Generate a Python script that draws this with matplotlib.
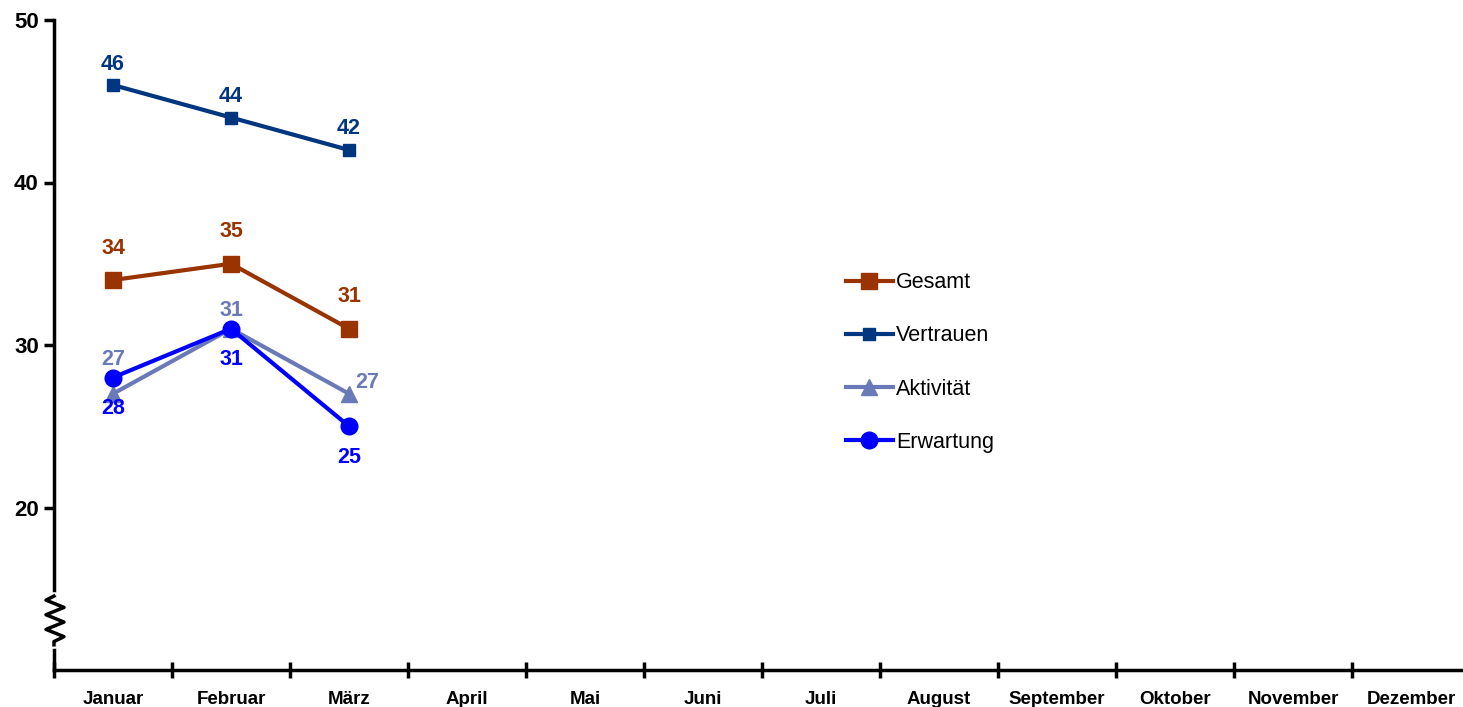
import matplotlib.pyplot as plt
import matplotlib.transforms as mtransforms
import numpy as np

plt.rcParams['font.family'] = ['Liberation Sans', 'DejaVu Sans']

months = ['Januar', 'Februar', 'März', 'April', 'Mai', 'Juni', 'Juli',
          'August', 'September', 'Oktober', 'November', 'Dezember']
gesamt = [34, 35, 31]
vertrauen = [46, 44, 42]
aktivitaet = [27, 31, 27]
erwartung = [28, 31, 25]

c_ges = '#993300'
c_ver = '#003580'
c_akt = '#6a7ab8'
c_erw = '#0000ff'

fig = plt.figure(figsize=(14.63, 7.07), dpi=100)
ax = fig.add_axes([54 / 1463, 37 / 707, 1416 / 1463, 650 / 707])

x = np.arange(len(gesamt))
ax.plot(x, gesamt, '-s', color=c_ges, lw=3, ms=11, label='Gesamt')
ax.plot(x, vertrauen, '-s', color=c_ver, lw=3, ms=9, label='Vertrauen')
ax.plot(x, aktivitaet, '-^', color=c_akt, lw=3, ms=11, label='Aktivität')
ax.plot(x, erwartung, '-o', color=c_erw, lw=3, ms=12, label='Erwartung')

def labels(vals, color, offs):
    for i, v in enumerate(vals):
        ax.annotate(str(v), (i, v), xytext=offs[i], textcoords='offset pixels',
                    ha='center', va='center', color=color,
                    fontsize=15.5, fontweight='bold')

labels(gesamt, c_ges, [(0, 32)] * 3)
labels(vertrauen, c_ver, [(0, 21)] * 3)
labels(aktivitaet, c_akt, [(0, 34), (0, 18), (18, 11)])
labels(erwartung, c_erw, [(0, -31)] * 3)

ax.set_xlim(-0.5, 11.5)
ax.set_ylim(10, 50)
ax.set_yticks([20, 30, 40, 50])
ax.set_xticks(np.arange(12))
ax.set_xticklabels(months, fontsize=13.5, fontweight='bold')
ax.set_xticks(np.arange(-0.5, 12, 1), minor=True)
ax.tick_params(axis='x', which='major', length=0, pad=15)
ax.tick_params(axis='x', which='minor', direction='inout', length=12, width=2.5)
ax.tick_params(axis='y', direction='out', length=7, width=2.5, pad=4)
for t in ax.get_yticklabels():
    t.set_fontsize(16)
    t.set_fontweight('bold')

for s in ['top', 'right']:
    ax.spines[s].set_visible(False)
for s in ['left', 'bottom']:
    ax.spines[s].set_linewidth(2.5)

# axis break on the y spine
trans = ax.get_yaxis_transform()
ax.plot([0, 0], [11.5, 14.6], color='white', lw=4, transform=trans,
        clip_on=False, zorder=5)
zz_y = [14.55, 14.3, 13.85, 13.4, 12.95, 12.5, 12.05, 11.75, 11.55]
zz_x = [0, -8, 10, -8, 10, -8, 10, 0, 0]
pts = [mtransforms.offset_copy(trans, fig=fig, x=zz_x[i], y=0, units='dots').transform((0, zz_y[i]))
       for i in range(len(zz_y))]
fig.add_artist(plt.Line2D([p[0] for p in pts], [p[1] for p in pts],
                          color='black', lw=2.5, transform=None, zorder=6))

ax.legend(loc='center left', bbox_to_anchor=(0.559, 0.473), frameon=False,
          fontsize=15.5, handlelength=2.2, handletextpad=0.15, labelspacing=1.5,
          borderpad=0, borderaxespad=0)

fig.savefig('out.png', dpi=100)
